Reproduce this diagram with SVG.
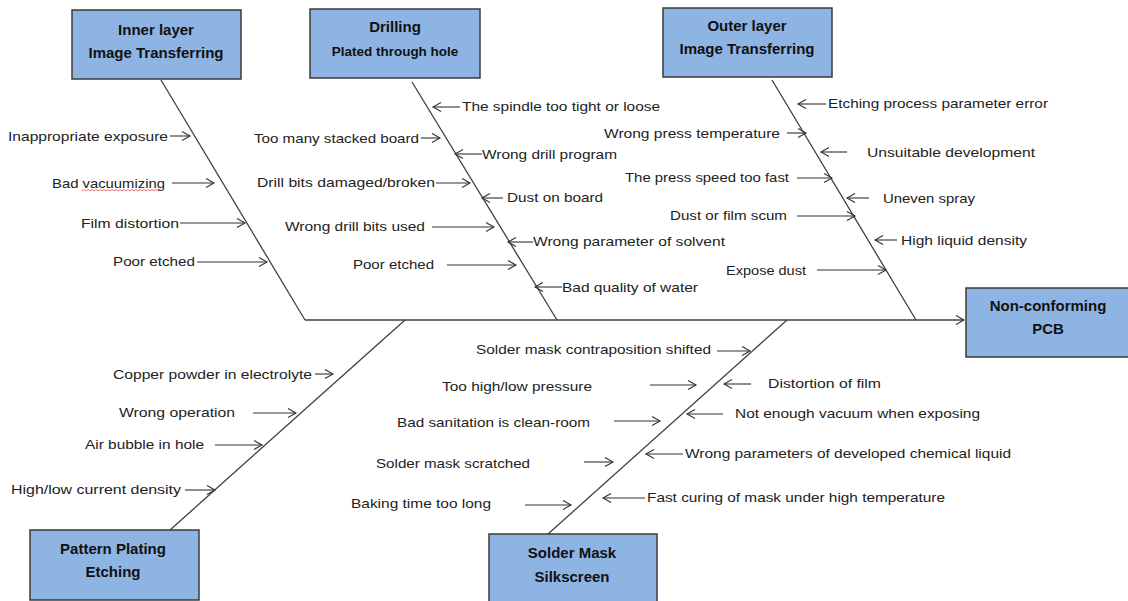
<svg xmlns="http://www.w3.org/2000/svg" width="1128" height="601" viewBox="0 0 1128 601">
<style>
.box{fill:#8EB4E3;stroke:#3a3a3a;stroke-width:1.5}
.ttl{font-family:"Liberation Sans",Arial,sans-serif;font-weight:bold;font-size:15px;fill:#111;text-anchor:middle}
.lbl{font-family:"Liberation Sans",Arial,sans-serif;font-size:13px;fill:#222}
.bone{stroke:#404040;stroke-width:1.3;fill:none}
.arr{stroke:#333;stroke-width:1.1;fill:none;marker-end:url(#ah)}
</style>
<defs>
<marker id="ah" markerUnits="userSpaceOnUse" markerWidth="12" markerHeight="12" refX="9" refY="5" orient="auto">
<path d="M1,0.5 L9,5 L1,9.5" fill="none" stroke="#333" stroke-width="1.1"/>
</marker>
</defs>
<rect width="1128" height="601" fill="#fff"/>

<g id="connectors">
<line class="bone" x1="305" y1="320" x2="964" y2="320" style="marker-end:url(#ah)"/>
<line class="bone" x1="161" y1="80" x2="305" y2="320"/>
<line class="bone" x1="412" y1="82" x2="557" y2="320"/>
<line class="bone" x1="772" y1="80" x2="916" y2="320"/>
<line class="bone" x1="405" y1="320" x2="170" y2="530"/>
<line class="bone" x1="787" y1="320" x2="548" y2="534"/>
<!-- inner layer arrows -->
<line class="arr" x1="170" y1="136" x2="190" y2="136"/>
<line class="arr" x1="172" y1="183" x2="214" y2="183"/>
<line class="arr" x1="180" y1="223" x2="245" y2="223"/>
<line class="arr" x1="197" y1="262" x2="267" y2="262"/>
<!-- drilling arrows -->
<line class="arr" x1="421" y1="138" x2="440" y2="138"/>
<line class="arr" x1="436" y1="183" x2="470" y2="183"/>
<line class="arr" x1="432" y1="227" x2="494" y2="227"/>
<line class="arr" x1="447" y1="265" x2="516" y2="265"/>
<line class="arr" x1="460" y1="107" x2="433" y2="107"/>
<line class="arr" x1="482" y1="154" x2="455" y2="154"/>
<line class="arr" x1="503" y1="198" x2="482" y2="198"/>
<line class="arr" x1="533" y1="242" x2="508" y2="242"/>
<line class="arr" x1="562" y1="287" x2="535" y2="287"/>
<!-- outer layer arrows -->
<line class="arr" x1="826" y1="104" x2="798" y2="104"/>
<line class="arr" x1="847" y1="152" x2="821" y2="152"/>
<line class="arr" x1="869" y1="198" x2="847" y2="198"/>
<line class="arr" x1="897" y1="240" x2="875" y2="240"/>
<line class="arr" x1="787" y1="133" x2="806" y2="133"/>
<line class="arr" x1="797" y1="178" x2="832" y2="178"/>
<line class="arr" x1="797" y1="216" x2="855" y2="216"/>
<line class="arr" x1="817" y1="270" x2="886" y2="270"/>
<!-- pattern plating arrows -->
<line class="arr" x1="315" y1="374" x2="333" y2="374"/>
<line class="arr" x1="253" y1="413" x2="296" y2="413"/>
<line class="arr" x1="215" y1="445" x2="262" y2="445"/>
<line class="arr" x1="185" y1="490" x2="215" y2="490"/>
<!-- solder mask arrows -->
<line class="arr" x1="717" y1="351" x2="750" y2="351"/>
<line class="arr" x1="650" y1="385" x2="696" y2="385"/>
<line class="arr" x1="614" y1="421" x2="660" y2="421"/>
<line class="arr" x1="584" y1="462" x2="613" y2="462"/>
<line class="arr" x1="525" y1="505" x2="571" y2="505"/>
<line class="arr" x1="751" y1="384" x2="724" y2="384"/>
<line class="arr" x1="723" y1="414" x2="687" y2="414"/>
<line class="arr" x1="683" y1="454" x2="646" y2="454"/>
<line class="arr" x1="645" y1="498" x2="603" y2="498"/>
</g>

<g id="node-inner">
<rect class="box" x="72" y="10" width="169" height="69"/>
<text class="ttl" x="156" y="35">Inner layer</text>
<text class="ttl" x="156" y="58">Image Transferring</text>
</g>
<g id="node-drilling">
<rect class="box" x="310" y="9" width="170" height="69"/>
<text class="ttl" x="395" y="32">Drilling</text>
<text class="ttl" x="395" y="56" style="font-size:13.5px">Plated through hole</text>
</g>
<g id="node-outer">
<rect class="box" x="663" y="8" width="169" height="69"/>
<text class="ttl" x="747" y="31">Outer layer</text>
<text class="ttl" x="747" y="54">Image Transferring</text>
</g>
<g id="node-result">
<rect class="box" x="966" y="288" width="168" height="69"/>
<text class="ttl" x="1048" y="311">Non-conforming</text>
<text class="ttl" x="1048" y="334">PCB</text>
</g>
<g id="node-pattern">
<rect class="box" x="30" y="530" width="169" height="70"/>
<text class="ttl" x="113" y="554">Pattern Plating</text>
<text class="ttl" x="113" y="577">Etching</text>
</g>
<g id="node-solder">
<rect class="box" x="489" y="534" width="168" height="70"/>
<text class="ttl" x="572" y="558">Solder Mask</text>
<text class="ttl" x="572" y="582">Silkscreen</text>
</g>

<g id="labels-inner">
<text class="lbl" x="8" y="141" textLength="160" lengthAdjust="spacingAndGlyphs">Inappropriate exposure</text>
<text class="lbl" x="52" y="188" textLength="113" lengthAdjust="spacingAndGlyphs">Bad vacuumizing</text>
<path d="M82,191 l2,-1.5 l2,1.5 l2,-1.5 l2,1.5 l2,-1.5 l2,1.5 l2,-1.5 l2,1.5 l2,-1.5 l2,1.5 l2,-1.5 l2,1.5 l2,-1.5 l2,1.5 l2,-1.5 l2,1.5 l2,-1.5 l2,1.5 l2,-1.5 l2,1.5 l2,-1.5 l2,1.5 l2,-1.5 l2,1.5 l2,-1.5 l2,1.5 l2,-1.5 l2,1.5 l2,-1.5 l2,1.5 l2,-1.5 l2,1.5 l2,-1.5 l2,1.5 l2,-1.5 l2,1.5 l2,-1.5 l2,1.5 l2,-1.5 l2,1.5" fill="none" stroke="#e05050" stroke-width="0.8"/>
<text class="lbl" x="81" y="228" textLength="98" lengthAdjust="spacingAndGlyphs">Film distortion</text>
<text class="lbl" x="113" y="266" textLength="82" lengthAdjust="spacingAndGlyphs">Poor etched</text>
</g>
<g id="labels-drilling">
<text class="lbl" x="254" y="143" textLength="165" lengthAdjust="spacingAndGlyphs">Too many stacked board</text>
<text class="lbl" x="257" y="187" textLength="178" lengthAdjust="spacingAndGlyphs">Drill bits damaged/broken</text>
<text class="lbl" x="285" y="231" textLength="140" lengthAdjust="spacingAndGlyphs">Wrong drill bits used</text>
<text class="lbl" x="353" y="269" textLength="81" lengthAdjust="spacingAndGlyphs">Poor etched</text>
<text class="lbl" x="462" y="111" textLength="198" lengthAdjust="spacingAndGlyphs">The spindle too tight or loose</text>
<text class="lbl" x="482" y="159" textLength="135" lengthAdjust="spacingAndGlyphs">Wrong drill program</text>
<text class="lbl" x="507" y="202" textLength="96" lengthAdjust="spacingAndGlyphs">Dust on board</text>
<text class="lbl" x="533" y="246" textLength="192" lengthAdjust="spacingAndGlyphs">Wrong parameter of solvent</text>
<text class="lbl" x="562" y="292" textLength="136" lengthAdjust="spacingAndGlyphs">Bad quality of water</text>
</g>
<g id="labels-outer">
<text class="lbl" x="828" y="108" textLength="220" lengthAdjust="spacingAndGlyphs">Etching process parameter error</text>
<text class="lbl" x="867" y="157" textLength="168" lengthAdjust="spacingAndGlyphs">Unsuitable development</text>
<text class="lbl" x="883" y="203" textLength="92" lengthAdjust="spacingAndGlyphs">Uneven spray</text>
<text class="lbl" x="901" y="245" textLength="126" lengthAdjust="spacingAndGlyphs">High liquid density</text>
<text class="lbl" x="604" y="138" textLength="176" lengthAdjust="spacingAndGlyphs">Wrong press temperature</text>
<text class="lbl" x="625" y="182" textLength="164" lengthAdjust="spacingAndGlyphs">The press speed too fast</text>
<text class="lbl" x="670" y="220" textLength="117" lengthAdjust="spacingAndGlyphs">Dust or film scum</text>
<text class="lbl" x="726" y="275" textLength="80" lengthAdjust="spacingAndGlyphs">Expose dust</text>
</g>
<g id="labels-pattern">
<text class="lbl" x="113" y="379" textLength="199" lengthAdjust="spacingAndGlyphs">Copper powder in electrolyte</text>
<text class="lbl" x="119" y="417" textLength="116" lengthAdjust="spacingAndGlyphs">Wrong operation</text>
<text class="lbl" x="85" y="449" textLength="119" lengthAdjust="spacingAndGlyphs">Air bubble in hole</text>
<text class="lbl" x="11" y="494" textLength="170" lengthAdjust="spacingAndGlyphs">High/low current density</text>
</g>
<g id="labels-solder">
<text class="lbl" x="476" y="354" textLength="235" lengthAdjust="spacingAndGlyphs">Solder mask contraposition shifted</text>
<text class="lbl" x="442" y="391" textLength="150" lengthAdjust="spacingAndGlyphs">Too high/low pressure</text>
<text class="lbl" x="397" y="427" textLength="193" lengthAdjust="spacingAndGlyphs">Bad sanitation  is clean-room</text>
<text class="lbl" x="376" y="468" textLength="154" lengthAdjust="spacingAndGlyphs">Solder mask scratched</text>
<text class="lbl" x="351" y="508" textLength="140" lengthAdjust="spacingAndGlyphs">Baking time too long</text>
<text class="lbl" x="768" y="388" textLength="113" lengthAdjust="spacingAndGlyphs">Distortion of film</text>
<text class="lbl" x="735" y="418" textLength="245" lengthAdjust="spacingAndGlyphs">Not enough vacuum when exposing</text>
<text class="lbl" x="685" y="458" textLength="326" lengthAdjust="spacingAndGlyphs">Wrong parameters of developed chemical liquid</text>
<text class="lbl" x="647" y="502" textLength="298" lengthAdjust="spacingAndGlyphs">Fast curing of mask under high temperature</text>
</g>
</svg>
